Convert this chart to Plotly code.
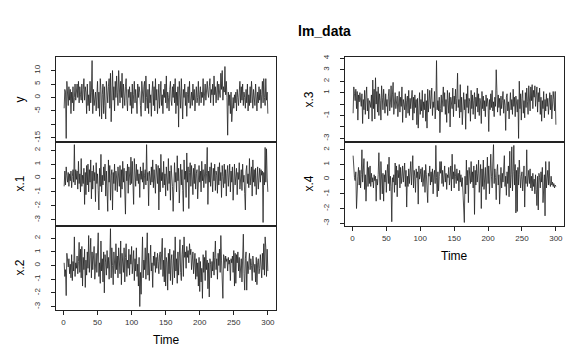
import plotly.graph_objects as go

time = list(range(1, 301))

y_vals = [
    -4, 3, 2, -15.2, 6, 1, -3, 4, -1, 3, -6, 2, -2, 4, -5, 0, 5, -1, 3, 5,
    0, 6, -2, 4, 1, -1, 5, -2, 3, 7, -1, 4, 2, -6, 5, -3, 1, -5, 6, -2,
    2, 13.7, -6, 3, -3, 1, 2, -5, 2, 6, -4, 2, -7, 7, 3, -8, 1, 5, -6, 4,
    -3, -8, 6, 0, -2, 4, 7, -4, 9, -9, 3, 10, -1, 4, -5, 6, 0, 8, 2, -3,
    10, 5, -2, 6, 0, 9, -4, 5, 1, -3, 4, 7, -1, -5, 3, 0, 4, -3, 2, -6,
    5, -4, 1, 6, -2, 3, -1, -6, 5, 0, 4, 2, -3, -7, 6, 1, -2, 4, 6, -5,
    8, 0, -4, 3, -6, 5, -2, 1, -7, 2, 6, -3, 4, -5, 7, -1, 3, -6, 0, 5,
    -4, 2, 6, -3, 1, -6, 3, 0, 5, -2, 8, -4, 2, 0, -5, 3, 6, -1, -3, 4,
    0, 5, -2, 7, -6, 2, -3, 4, -11, 6, 1, -4, 7, 2, -8, 3, 0, 5, -3, 2,
    -7, 1, 4, -2, 6, -4, 0, 2, -3, 5, -1, 3, -5, 2, 4, -2, 0, 6, -3, 1,
    4, -2, 2, 0, 7, -3, 1, 5, -1, 3, 6, 2, 0, 4, 7, -2, 3, 1, 5, -3,
    8, 1, 4, -2, 3, 6, -1, 5, 2, 0, 9, 3, 10, -1, 4, 2, 11.5, 1, 6, 0,
    -14, 2, -3, 1, -6, 2, -9, -2, 0, -4, 1, -2, 2, -5, 3, 0, -3, 2, 6, -2,
    4, -1, 5, -3, 2, 0, -4, 3, -2, 5, -5, 1, -3, 4, -2, 6, 0, -4, 3, 1,
    -3, 5, 0, -5, 2, -2, 4, -1, 3, -4, 1, 6, -2, 7, 0, -3, 7, -1, 2, -6,
]

x1_vals = [
    -0.6, 0.5, -0.5, 0.8, 0.2, -0.3, 0.4, -0.6, 0.3, -0.2, 0.5, -0.7, 0.1, 0.6, -0.3, 2.4, -0.5, 0.6, -0.1, 0.5,
    -0.8, 1.2, -0.4, 0.3, -1.0, 1.4, -0.6, 0.2, -0.4, 0.7, -1.9, 0.4, -1.2, 0.9, -0.5, 1.0, -1.0, 0.6, -0.3, 1.3,
    -1.5, 0.5, -0.8, 0.9, -0.2, 0.4, -1.7, 1.1, -0.4, 0.3, -0.9, -2.3, 0.7, -0.6, 1.7, -1.0, 0.2, -0.5, 0.8, -0.2,
    1.0, -1.3, 0.5, -0.7, -2.4, 1.3, -0.3, 0.9, -1.6, 0.2, 0.6, -2.3, 0.4, -0.4, 1.0, -0.9, 0.5, 0.0, -1.0, 0.8,
    0.3, -0.6, 0.9, -1.4, 0.6, -0.8, 1.2, -0.3, 0.7, -1.9, -2.6, 0.5, -0.2, 1.0, -1.1, 0.8, 0.2, -0.5, 1.5, -0.4,
    1.2, 0.1, -1.9, 1.4, 0.3, -0.6, 1.0, -0.2, 0.6, -0.4, 0.3, -1.4, 0.8, -0.1, 0.5, -0.3, 1.1, -0.8, 0.2, 0.6,
    -0.5, 2.4, -0.2, 0.4, -2.0, 0.5, 0.1, -0.5, 0.8, -0.3, 1.3, -0.7, 0.6, 0.0, -1.1, 1.0, 0.3, -0.4, 0.9, -2.3,
    0.7, -1.0, 1.7, -0.2, 0.4, -0.7, 1.2, -0.5, 0.3, -1.3, 0.8, 0.0, -0.9, 1.4, -0.4, 0.5, -1.6, 0.9, 0.1, -0.6,
    -2.4, 0.6, 1.1, -0.3, 0.4, -1.0, 1.6, -0.2, 0.7, -1.8, 0.3, 1.0, -0.5, 0.6, -0.9, -2.4, 1.3, -0.1, 0.5, -1.4,
    1.8, -0.3, 0.8, -2.2, 0.4, 1.1, -0.6, 0.9, 0.0, -1.2, 0.7, -0.4, 1.0, -0.8, 0.3, 0.6, -1.5, 0.2, 0.9, -0.3,
    0.5, -1.0, 1.2, -0.2, 0.6, -0.7, 0.1, 1.0, -0.4, 0.3, 2.2, -1.9, 0.5, -0.3, 0.8, -0.6, 1.1, 0.0, -1.0, 0.7,
    -0.2, 1.0, -0.9, 0.5, 0.2, -1.1, 0.8, -0.5, 1.1, -0.2, 0.4, -1.4, 0.9, 0.1, -0.7, 1.0, -0.4, 0.6, -1.3, 0.3,
    0.9, -0.6, 0.2, 1.0, -1.0, 0.5, -0.3, 0.8, -1.6, 0.4, 1.0, -0.5, 0.2, 0.7, -1.2, 0.4, -0.1, 1.1, -0.8, 0.3,
    0.6, -0.9, 1.0, -0.3, 0.2, -1.1, -2.3, 0.5, 0.9, -0.4, 0.3, -0.7, 1.4, -0.5, 0.0, 0.8, -1.3, 1.3, -0.3, 0.6,
    -0.6, 0.7, -1.2, 0.4, 0.8, -0.8, 0.2, 0.7, -0.3, 0.6, 0.2, 0.5, -3.2, 0.4, -0.5, 2.2, -0.3, 2.1, 0.0, -1.0,
]

x2_vals = [
    0.2, -0.8, -0.3, -2.2, 0.9, 0.3, -0.1, 0.5, -0.6, 0.1, -0.9, 0.8, -1.1, 0.3, -0.4, 2.1, -0.8, 0.2, -0.2, 0.7,
    -0.6, 0.3, 1.7, -0.5, 1.2, -0.9, 1.4, -1.5, 0.6, -0.3, 1.2, -1.6, 0.4, -0.7, 1.0, -0.2, 2.2, -0.5, 0.8, 2.0,
    -0.9, 1.0, -0.3, 0.6, 1.4, -1.0, 0.3, 0.9, -0.5, 1.1, 2.4, -0.8, 0.2, -1.3, 1.8, -0.4, 0.5, -1.2, 1.0, -2.0,
    0.8, 0.2, -0.7, 1.1, -0.2, 0.6, -1.0, 0.4, 2.7, -0.9, 1.3, 0.0, -1.4, 1.0, 0.3, -0.6, 1.6, -0.3, 0.7, -0.9,
    1.3, 0.5, -0.6, 1.8, -1.4, 0.9, 0.2, -0.5, 1.3, -1.2, 0.6, 1.6, -0.8, 0.4, -0.2, 1.2, -0.7, 0.8, 0.1, 1.4,
    -0.6, 0.3, 1.1, -1.1, 0.5, -0.4, 1.3, -0.8, 0.1, -1.5, 0.6, -3.0, -0.5, -2.1, 1.0, 2.1, -0.9, 0.4, -0.3, 1.3,
    -1.0, 0.6, 2.4, -0.7, 0.9, -1.1, 0.3, 1.5, -0.4, 0.2, -1.6, 0.7, 0.0, 1.0, -0.5, 0.6, -0.2, 0.9, 0.3, -0.6,
    0.8, 1.0, -0.3, 0.5, 2.0, -0.8, 0.4, -1.2, 1.3, -1.5, 0.6, 0.2, -1.8, 0.9, -0.6, 1.2, -1.1, 0.4, 0.8, -1.4,
    0.3, 1.1, -0.9, 2.1, -0.4, 0.5, -1.3, 1.0, -0.7, 0.2, 1.9, -0.5, -1.1, 0.8, 1.5, -0.8, 2.1, 0.6, 1.0, -0.2,
    1.4, 0.6, 1.1, 0.2, 1.6, 0.8, 1.2, -0.3, 0.7, 1.0, -0.6, 0.4, 0.9, -1.0, 0.5, -0.8, 0.2, -1.5, 0.6, -1.9,
    0.3, -1.2, -0.2, -2.4, 0.8, -0.5, 0.6, -1.1, 1.1, -0.3, 0.4, -1.7, 0.2, -2.3, 0.5, 0.1, -0.9, 0.3, -0.4, 1.0,
    -0.7, 0.6, 1.8, -0.3, 0.5, -1.0, 0.9, 0.0, 1.2, -0.5, 2.2, 0.4, -0.6, -2.4, 0.8, 0.6, -0.2, 0.7, 0.3, 0.5,
    -0.4, 0.6, 0.1, 0.4, -1.1, 0.5, 0.2, 0.7, -0.5, 1.1, -1.5, 0.9, -1.3, 0.8, 0.2, 1.0, -0.4, 0.6, -0.9, 0.4,
    0.5, -1.2, 0.9, 2.3, -0.6, -1.8, 0.5, 1.0, -1.8, 0.3, -0.6, 0.2, 0.9, -0.3, 0.5, 0.0, -1.1, 0.7, -0.4, -0.5,
    0.1, -1.2, 0.6, -1.4, 0.2, 0.5, -0.6, -0.2, 0.8, -0.5, -0.9, 0.9, -0.3, 1.6, -0.7, 2.1, 1.3, -0.8, 1.2, -0.4,
]

x3_vals = [
    -0.8, 1.5, 0.9, 0.3, 1.3, -0.4, 1.1, -1.4, 0.8, 0.2, 1.0, 0.6, -0.2, 0.9, -1.7, 0.4, -0.5, 1.2, -0.9, 0.7,
    1.5, -0.6, 0.5, -1.3, 0.3, 0.1, -0.3, 0.8, -1.5, 2.1, -0.4, 1.3, -1.3, 2.3, 0.0, 1.1, -0.7, 1.5, -1.0, 0.9,
    0.3, -1.4, 1.6, 0.6, -0.5, 1.3, 0.2, -0.8, 0.9, -0.2, 0.4, -1.0, 0.7, 1.3, -0.6, 0.1, 1.6, -0.3, 0.8, 1.9,
    -0.9, 0.5, 1.0, -0.4, 0.3, 0.7, -1.1, 0.2, 1.1, -0.7, 0.6, -0.2, 1.5, -1.6, 0.4, 0.0, -0.5, 0.9, -1.2, 0.3,
    0.7, -0.8, 1.2, -1.0, 0.5, -0.4, 0.2, 1.2, -1.4, 0.6, -0.8, 0.8, -0.3, 0.4, -1.8, 0.5, -2.1, 0.3, 1.0, -0.9,
    0.4, -0.6, 1.2, -1.2, 0.2, -0.5, 0.9, -1.5, 0.3, -2.1, 1.3, -0.7, 0.5, 1.2, -0.4, 0.8, 1.4, -1.0, 0.2, -0.3,
    1.1, -1.3, -0.2, 3.8, -0.5, 0.3, -0.6, 0.6, -2.5, -0.4, 0.8, -0.7, 0.5, 1.5, -0.2, 1.0, -0.9, 0.4, -1.6, 1.2,
    0.3, -0.8, 1.0, -2.0, 0.6, 0.2, -0.4, 1.4, -1.1, 0.7, 0.0, 1.3, -0.6, 0.5, 2.7, -0.3, 0.4, -1.2, 1.7, -0.7,
    0.6, -1.8, 0.2, 1.0, -0.5, 0.4, -2.2, 0.9, -0.3, 1.6, -0.8, 0.5, 0.2, -1.5, 1.2, -0.4, 0.8, -0.9, 0.3, 1.0,
    -1.3, 0.6, -0.2, 1.4, -0.7, 0.9, -1.0, 0.5, 0.1, -1.7, 1.1, -0.4, 0.7, -0.6, 0.3, -1.1, 0.8, -0.2, 0.5, 0.0,
    -2.4, 0.4, -0.5, 0.9, -0.3, 1.2, -0.6, 0.2, -1.1, 0.6, -0.2, 3.0, 1.2, -0.7, 0.8, -0.3, 0.5, -1.0, 0.7, -0.4,
    0.3, 1.1, -0.8, 0.4, -0.1, -2.3, 0.6, 0.9, -0.6, 0.2, -1.3, 0.8, 1.0, -0.5, 0.4, -0.9, 1.3, -0.2, 0.6, -1.1,
    0.7, 0.1, -0.7, 0.4, -3.0, 2.0, -0.4, 0.9, -1.4, 0.5, 1.2, -0.8, 0.3, -1.2, 1.0, -0.3, 1.4, 0.2, -0.9, 1.6,
    0.5, -0.6, 1.5, 0.3, 1.7, -0.4, 1.2, 0.6, 1.6, -0.2, 0.8, 1.5, -0.7, 1.0, 0.2, 1.4, -0.9, 0.6, -1.5, 0.3,
    -0.4, 1.1, -1.2, 0.4, -0.6, 0.9, -0.2, 0.5, -0.9, 0.7, 1.0, -0.5, 0.8, -1.3, 0.2, 1.1, 0.4, -0.6, 1.1, -1.8,
]

x4_vals = [
    1.6, 0.7, 0.1, -0.1, 0.5, -2.0, -0.3, 0.2, 0.8, -0.4, 0.6, -0.6, 0.3, 2.0, -0.2, 0.5, 1.4, -0.7, 0.3, -1.5,
    0.1, 1.2, -0.5, 0.8, -0.3, 0.9, -0.5, 0.4, -0.2, 0.1, -0.6, 0.3, -0.1, 0.2, -1.5, 0.0, -0.4, 0.3, 1.8, -0.8,
    -1.4, 1.2, -0.5, -1.0, 0.4, -1.5, 0.3, -0.2, 0.6, -0.9, 0.4, 1.0, -0.3, 1.5, -0.8, 0.2, -0.5, -2.9, 0.1, -0.2,
    0.3, -0.9, 1.1, -0.4, 0.9, -1.2, 0.6, 0.1, 1.0, -0.6, 0.8, -0.3, 0.2, 0.9, -0.2, 0.4, 1.1, -0.5, 0.6, -1.9,
    0.2, -0.5, 0.7, -0.3, 0.5, 1.2, -0.4, 0.3, 1.6, -0.6, 0.6, 0.2, -0.9, 0.7, 0.1, 0.5, -1.7, 0.9, 0.0, 0.3,
    0.7, -0.2, 0.8, -0.5, 0.4, 0.6, -0.9, 1.0, 0.3, -0.6, -1.6, 0.4, 0.2, 0.9, -0.4, 0.5, -0.2, 0.7, -1.0, 0.3,
    0.6, -0.3, 2.3, 0.1, -1.2, 0.5, -0.8, 0.2, 1.2, 0.4, 1.2, -0.3, 0.6, -0.5, 0.2, 0.9, -0.2, 0.4, -0.7, 0.3,
    0.1, 0.8, -0.4, 0.5, 0.9, -0.8, 1.7, 0.0, 0.5, -0.6, 1.0, 0.2, -0.3, 0.7, -0.1, 0.4, -0.8, 0.6, -0.2, 0.3,
    -0.5, 0.1, -0.7, -1.9, -2.95, 0.2, -1.0, 1.3, -0.4, 0.6, -1.6, 0.8, 0.1, -0.3, 1.2, -0.2, 0.5, -0.6, 0.9, -2.4,
    0.6, -0.4, 1.0, -0.2, 0.4, 1.3, -0.9, 0.3, 1.0, -2.0, 0.7, -0.5, 1.3, -0.7, 0.2, 0.8, -1.4, 0.6, 1.5, -0.3,
    0.9, -1.0, 0.4, 1.7, 0.2, -0.6, 1.1, 2.35, -0.3, 0.7, 0.1, -1.4, 0.5, 1.0, -0.4, 0.3, -1.7, 0.2, 0.8, -0.6,
    0.4, -0.2, 0.6, 1.6, -0.5, 0.2, -1.1, 0.5, -0.3, 0.9, -1.2, 1.9, -0.6, 0.3, 2.2, -0.8, 0.5, 2.3, -0.4, 1.0,
    -2.3, 0.6, -2.2, 0.8, -0.4, 1.3, 0.3, -0.6, 0.2, 0.5, -0.8, 0.1, 0.9, -1.9, 0.2, -0.3, 2.0, -0.5, 0.4, 0.6,
    -0.3, 0.7, -0.6, 0.2, -0.8, 0.4, -0.5, 0.0, -1.0, 0.3, -0.7, -1.8, 0.2, -2.1, 0.4, 0.1, -0.6, 0.5, -0.2, 0.8,
    -1.6, -0.5, 0.3, -2.5, 1.2, -0.6, -0.1, 0.6, -0.4, 1.2, -0.3, -0.5, 0.2, -0.4, -0.2, -0.5, -0.3, -0.6, -0.4, -0.5,
]

series_names = ["y", "x.1", "x.2", "x.3", "x.4"]
series_vals = [y_vals, x1_vals, x2_vals, x3_vals, x4_vals]
x_tick_vals = [0, 50, 100, 150, 200, 250, 300]
y_tick_vals = [
    [-15, -10, -5, 0, 5, 10],
    [-3, -2, -1, 0, 1, 2],
    [-3, -2, -1, 0, 1, 2],
    [-3, -2, -1, 0, 1, 2, 3, 4],
    [-3, -2, -1, 0, 1, 2],
]
y_tick_text = [
    ["-15", "", "-5", "0", "5", "10"],
    ["-3", "-2", "-1", "0", "1", "2"],
    ["-3", "-2", "-1", "0", "1", "2"],
    ["-3", "", "-1", "", "1", "2", "3", "4"],
    ["-3", "-2", "-1", "0", "1", "2"],
]

W, H = 576, 360
# panel boxes in pixels: (left, right, top, bottom)
boxes = [
    (48, 268, 47, 132),
    (48, 268, 132, 217),
    (48, 268, 217, 302),
    (337, 556, 47, 132),
    (337, 556, 132, 217),
]
bottom_panels = {2, 4}

fig = go.Figure()
FONT = "Liberation Sans, Arial, sans-serif"
xr = [time[0] - 0.04 * (time[-1] - time[0]), time[-1] + 0.04 * (time[-1] - time[0])]

layout = dict(
    width=W, height=H,
    margin=dict(l=0, r=0, t=0, b=0),
    paper_bgcolor="white", plot_bgcolor="white",
    showlegend=False,
    font=dict(family=FONT, color="black"),
)
annotations = []
for i, (name, vals) in enumerate(zip(series_names, series_vals)):
    k = i + 1
    xa = "x" if k == 1 else f"x{k}"
    ya = "y" if k == 1 else f"y{k}"
    fig.add_trace(go.Scatter(x=time, y=vals, mode="lines",
                             line=dict(color="#222222", width=0.8),
                             xaxis=xa, yaxis=ya, hoverinfo="skip"))
    l, r, t, b = boxes[i]
    lo, hi = min(vals), max(vals)
    pad = 0.04 * (hi - lo)
    is_bottom = i in bottom_panels
    layout[f"xaxis{k}"] = dict(
        domain=[l / W, r / W], anchor=ya, range=xr,
        showgrid=False, zeroline=False,
        showline=True, mirror=True, linecolor="#222", linewidth=1,
        ticks="outside" if is_bottom else "", ticklen=4, tickcolor="#222",
        tickvals=x_tick_vals if is_bottom else [],
        showticklabels=is_bottom, ticklabelstandoff=1,
        tickfont=dict(size=8, color="#333", family=FONT),
    )
    layout[f"yaxis{k}"] = dict(
        domain=[1 - b / H, 1 - t / H], anchor=xa, range=[lo - pad, hi + pad],
        showgrid=False, zeroline=False,
        showline=True, mirror=True, linecolor="#222", linewidth=1,
        ticks="outside", ticklen=4, tickcolor="#222",
        tickvals=y_tick_vals[i], ticktext=y_tick_text[i],
        tickangle=-90, ticklabelstandoff=8,
        tickfont=dict(size=8, color="#333", family=FONT),
    )
    annotations.append(dict(
        text=name, xref="paper", yref="paper",
        x=(l - 36) / W, y=1 - ((t + b) / 2) / H,
        xanchor="center", yanchor="middle", textangle=-90, showarrow=False,
        font=dict(size=12, family=FONT, color="black"),
    ))
    if is_bottom:
        annotations.append(dict(
            text="Time", xref="paper", yref="paper",
            x=((l + r) / 2) / W, y=1 - (b + 31) / H,
            xanchor="center", yanchor="middle", showarrow=False,
            font=dict(size=12, family=FONT, color="black"),
        ))

annotations.append(dict(
    text="<b>lm_data</b>", xref="paper", yref="paper",
    x=316 / W, y=1 - 20 / H, xanchor="center", yanchor="middle",
    showarrow=False, font=dict(size=14, family=FONT, color="black"),
))
layout["annotations"] = annotations
fig.update_layout(**layout)
fig.write_html("out.html")
